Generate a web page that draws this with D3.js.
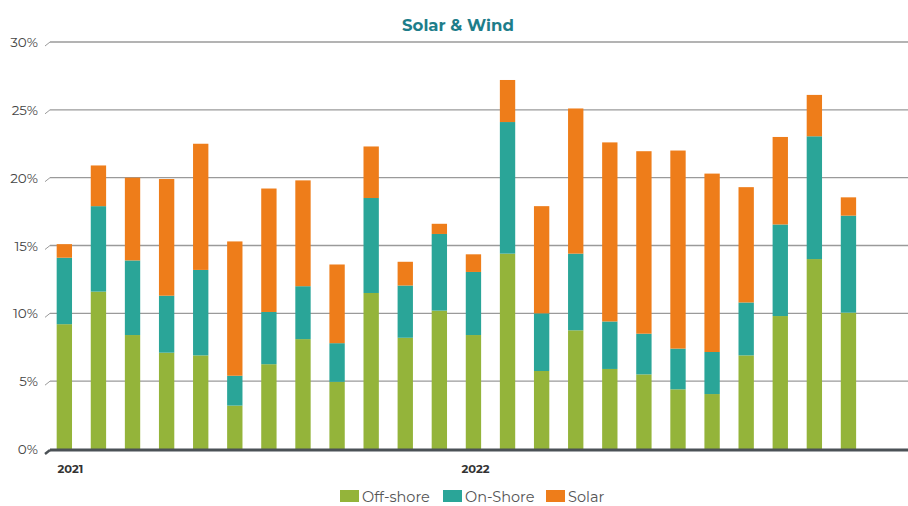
<!DOCTYPE html>
<html><head><meta charset="utf-8">
<script src="https://cdn.jsdelivr.net/npm/d3@7"></script>
<style>body{margin:0;background:#fff;} svg{display:block;font-family:"Montserrat","Lato","Open Sans",sans-serif;}</style>
</head><body>
<svg id="chart" width="908" height="506"></svg>
<script>
const months = d3.range(24).map(i => i);
const yearLabels = ["2021","2022"];
const yearIndex = [0, 12];
const offShore = [9.2,11.6,8.4,7.1,6.9,3.2,6.25,8.1,4.95,11.5,8.2,10.2,8.4,14.4,5.75,8.75,5.9,5.5,4.4,4.05,6.9,9.8,14.0,10.05];
const onShore  = [4.9,6.3,5.5,4.2,6.3,2.2,3.85,3.9,2.85,7.0,3.85,5.65,4.65,9.7,4.25,5.65,3.5,3.0,3.0,3.1,3.9,6.75,9.05,7.15];
const solar    = [1.0,3.0,6.1,8.6,9.3,9.9,9.1,7.8,5.8,3.8,1.75,0.75,1.3,3.1,7.9,10.7,13.2,13.45,14.6,13.15,8.5,6.45,3.05,1.35];
const seriesNames = ["Off-shore","On-Shore","Solar"];
const colors = ["#94b43a","#2aa598","#ee7d1a"];
const yTicks = [0,5,10,15,20,25,30];

const svg = d3.select("#chart");
const x = d3.scaleBand().domain(months).range([47.3, 865.5]).paddingInner(0.55).paddingOuter(0.275);
const y = d3.scaleLinear().domain([0,30]).range([449, 42]);

// title
svg.append("text").attr("x",458).attr("y",31).attr("text-anchor","middle")
  .attr("fill","#1d7d8a").attr("font-weight","bold").attr("font-size",16.5).text("Solar & Wind");

// gridlines
const g = svg.append("g");
yTicks.forEach(t => {
  const yy = y(t);
  if (t > 0) {
    g.append("line").attr("x1",50).attr("x2",908).attr("y1",yy).attr("y2",yy).attr("stroke","#9a9a9a").attr("stroke-width",1.3);
    g.append("line").attr("x1",45).attr("x2",50).attr("y1",yy+4).attr("y2",yy).attr("stroke","#9a9a9a").attr("stroke-width",1);
  }
  g.append("text").attr("x",38).attr("y",yy+5).attr("text-anchor","end").attr("fill","#444").attr("font-size",13.5).text(t + "%");
});

// stacked bars
const rows = months.map(i => ({m:i, "Off-shore":offShore[i], "On-Shore":onShore[i], "Solar":solar[i]}));
const stack = d3.stack().keys(seriesNames)(rows);
svg.append("g").selectAll("g").data(stack).join("g").attr("fill",(d,i)=>colors[i])
  .selectAll("rect").data(d=>d).join("rect")
  .attr("x", d => x(d.data.m)).attr("width", x.bandwidth())
  .attr("y", d => y(d[1])).attr("height", d => y(d[0]) - y(d[1]));

// baseline
svg.append("line").attr("x1",50).attr("x2",908).attr("y1",y(0)+1).attr("y2",y(0)+1).attr("stroke","#4b5156").attr("stroke-width",3);
svg.append("line").attr("x1",45).attr("x2",50).attr("y1",y(0)+5).attr("y2",y(0)+1).attr("stroke","#4b5156").attr("stroke-width",2.5);

// year labels
yearLabels.forEach((lab,i) => {
  svg.append("text").attr("x", x(yearIndex[i]) + x.bandwidth()/2 + (i===0 ? 6 : 2)).attr("y",473)
    .attr("text-anchor","middle").attr("font-weight","bold").attr("font-size",11.5).attr("fill","#333").text(lab);
});

// legend
const legX = [340, 443, 546];
const leg = svg.append("g");
seriesNames.forEach((n,i) => {
  leg.append("rect").attr("x",legX[i]).attr("y",490).attr("width",19).attr("height",12).attr("fill",colors[i]);
  leg.append("text").attr("x",legX[i]+22).attr("y",501.5).attr("font-size",14.5).attr("fill","#555").text(n);
});
</script>
</body></html>
